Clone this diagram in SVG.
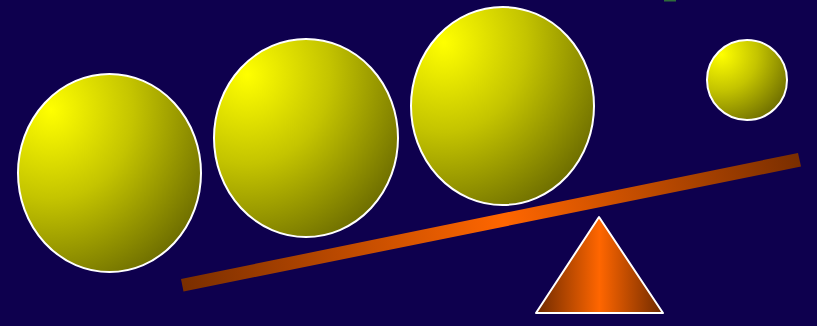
<svg xmlns="http://www.w3.org/2000/svg" width="817" height="326" viewBox="0 0 817 326">
  <defs>
    <radialGradient id="ball" cx="0.18" cy="0.18" r="1.0" fx="0.18" fy="0.18">
      <stop offset="0" stop-color="#FFFF00"/>
      <stop offset="0.45" stop-color="#C4C400"/>
      <stop offset="1" stop-color="#666600"/>
    </radialGradient>
    <linearGradient id="beam" gradientUnits="userSpaceOnUse" x1="182" y1="285" x2="800" y2="160">
      <stop offset="0" stop-color="#7A2E00"/>
      <stop offset="0.52" stop-color="#FF6600"/>
      <stop offset="1" stop-color="#7A2E00"/>
    </linearGradient>
    <linearGradient id="tri" gradientUnits="userSpaceOnUse" x1="536" y1="0" x2="663" y2="0">
      <stop offset="0" stop-color="#6E2A00"/>
      <stop offset="0.5" stop-color="#FF6600"/>
      <stop offset="1" stop-color="#6E2A00"/>
    </linearGradient>
    <style>
      .ball { fill: url(#ball); stroke: #FFFFFF; stroke-width: 2; }
    </style>
  </defs>
  <rect width="817" height="326" fill="#0E004E"/>
  <rect x="664" y="0" width="12" height="1.5" fill="#2F6B3A"/>
  <g id="beam-bar">
    <polygon points="181,279 183.5,291.5 801,166.5 798,153" fill="url(#beam)"/>
  </g>
  <g id="fulcrum">
    <polygon points="599,217 663,313 536,313" fill="url(#tri)" stroke="#FFFFFF" stroke-width="2" stroke-linejoin="round"/>
  </g>
  <g id="ball1"><ellipse class="ball" cx="109.5" cy="173" rx="91.5" ry="99"/></g>
  <g id="ball2"><ellipse class="ball" cx="306" cy="138" rx="92" ry="99"/></g>
  <g id="ball3"><ellipse class="ball" cx="502.5" cy="106" rx="91.5" ry="99"/></g>
  <g id="ball4"><ellipse class="ball" cx="747" cy="80" rx="40" ry="40"/></g>
</svg>
